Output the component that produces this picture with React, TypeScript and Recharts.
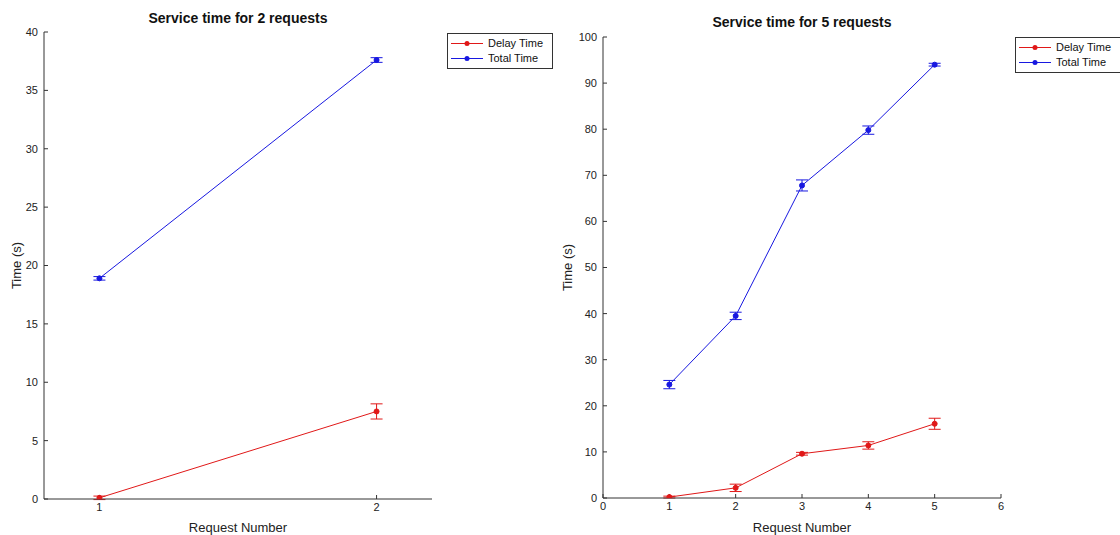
import React from "react";
import {
  LineChart,
  Line,
  XAxis,
  YAxis,
  ErrorBar,
  Label,
} from "recharts";

// chart 1: 2 requests
const requests2 = [1, 2];
const delay2 = [0.1, 7.5];
const delay2Err = [0.15, 0.65];
const total2 = [18.9, 37.6];
const total2Err = [0.15, 0.2];

// chart 2: 5 requests
const requests5 = [1, 2, 3, 4, 5];
const delay5 = [0.2, 2.2, 9.6, 11.4, 16.1];
const delay5Err = [0.2, 0.8, 0.3, 0.8, 1.2];
const total5 = [24.6, 39.5, 67.8, 79.8, 94.0];
const total5Err = [0.9, 0.8, 1.2, 0.9, 0.3];

const xTicks2 = [1, 2];
const yTicks2 = [0, 5, 10, 15, 20, 25, 30, 35, 40];
const xTicks5 = [0, 1, 2, 3, 4, 5, 6];
const yTicks5 = [0, 10, 20, 30, 40, 50, 60, 70, 80, 90, 100];

const seriesNames = ["Delay Time", "Total Time"];

const RED = "#e01818";
const BLUE = "#1818e0";
const AXIS = "#333";
const FONT = "'Liberation Sans', Arial, sans-serif";

const rows = (
  xs: number[],
  delay: number[],
  delayErr: number[],
  total: number[],
  totalErr: number[]
) =>
  xs.map((x, i) => ({
    x,
    delay: delay[i],
    delayErr: delayErr[i],
    total: total[i],
    totalErr: totalErr[i],
  }));

const data2 = rows(requests2, delay2, delay2Err, total2, total2Err);
const data5 = rows(requests5, delay5, delay5Err, total5, total5Err);

function MatlabLegend({ left, top, width }: { left: number; top: number; width: number }) {
  const colors = [RED, BLUE];
  return (
    <div
      style={{
        position: "absolute",
        left,
        top,
        width,
        boxSizing: "border-box",
        border: "1px solid #333",
        background: "#fff",
        padding: "2px 4px 2px 2px",
        fontFamily: FONT,
        fontSize: 11,
        color: "#111",
        lineHeight: "15px",
        whiteSpace: "nowrap",
      }}
    >
      {seriesNames.map((name, i) => (
        <div key={name} style={{ display: "flex", alignItems: "center" }}>
          <svg width={34} height={15} style={{ marginRight: 4 }}>
            <line x1={1} y1={7.5} x2={33} y2={7.5} stroke={colors[i]} strokeWidth={1} />
            <circle cx={17} cy={7.5} r={2.5} fill={colors[i]} />
          </svg>
          <span>{name}</span>
        </div>
      ))}
    </div>
  );
}

type PanelProps = {
  title: string;
  data: ReturnType<typeof rows>;
  xDomain: [number, number];
  xTicks: number[];
  yDomain: [number, number];
  yTicks: number[];
  left: number;
  yAxisWidth: number;
  marginRight: number;
  marginTop: number;
  xAxisHeight: number;
  yLabelOffset: number;
  titleTop: number;
  legendLeft: number;
  legendTop: number;
  legendWidth: number;
};

function Panel(p: PanelProps) {
  const tickStyle = { fontSize: 11, fill: "#222", fontFamily: FONT };
  const plotLeft = p.yAxisWidth;
  const plotRight = 560 - p.marginRight;
  return (
    <div style={{ position: "absolute", left: p.left, top: 0, width: 560, height: 535 }}>
      <div
        style={{
          position: "absolute",
          left: plotLeft,
          width: plotRight - plotLeft,
          top: p.titleTop,
          textAlign: "center",
          fontFamily: FONT,
          fontWeight: "bold",
          fontSize: 14,
          color: "#111",
        }}
      >
        {p.title}
      </div>
      <LineChart
        width={560}
        height={535}
        data={p.data}
        margin={{ top: p.marginTop, right: p.marginRight, bottom: 0, left: 0 }}
      >
        <XAxis
          type="number"
          dataKey="x"
          domain={p.xDomain}
          ticks={p.xTicks}
          allowDataOverflow
          height={p.xAxisHeight}
          stroke={AXIS}
          tick={tickStyle}
          tickSize={-4}
          tickMargin={8}
        >
          <Label
            value="Request Number"
            position="insideBottom"
            offset={3}
            style={{ fontSize: 13, fill: "#222", fontFamily: FONT }}
          />
        </XAxis>
        <YAxis
          type="number"
          domain={p.yDomain}
          ticks={p.yTicks}
          allowDataOverflow
          width={p.yAxisWidth}
          stroke={AXIS}
          tick={tickStyle}
          tickSize={-4}
          tickMargin={10}
        >
          <Label
            value="Time (s)"
            angle={-90}
            position="insideLeft"
            offset={p.yLabelOffset}
            style={{ fontSize: 13, fill: "#222", fontFamily: FONT, textAnchor: "middle" }}
          />
        </YAxis>
        <Line
          name={seriesNames[0]}
          dataKey="delay"
          stroke={RED}
          strokeWidth={1}
          dot={{ r: 2.5, fill: RED, stroke: RED, strokeWidth: 1 }}
          isAnimationActive={false}
        >
          <ErrorBar dataKey="delayErr" direction="y" width={6} stroke={RED} strokeWidth={1} />
        </Line>
        <Line
          name={seriesNames[1]}
          dataKey="total"
          stroke={BLUE}
          strokeWidth={1}
          dot={{ r: 2.5, fill: BLUE, stroke: BLUE, strokeWidth: 1 }}
          isAnimationActive={false}
        >
          <ErrorBar dataKey="totalErr" direction="y" width={6} stroke={BLUE} strokeWidth={1} />
        </Line>
      </LineChart>
      <MatlabLegend left={p.legendLeft} top={p.legendTop} width={p.legendWidth} />
    </div>
  );
}

export default function App() {
  return (
    <div
      style={{
        position: "absolute",
        left: 0,
        top: 0,
        width: 1120,
        height: 535,
        overflow: "hidden",
        background: "#fff",
      }}
    >
      <Panel
        title="Service time for 2 requests"
        data={data2}
        xDomain={[0.8, 2.2]}
        xTicks={xTicks2}
        yDomain={[0, 40]}
        yTicks={yTicks2}
        left={0}
        yAxisWidth={44}
        marginRight={128}
        marginTop={32}
        xAxisHeight={36}
        yLabelOffset={16}
        titleTop={10}
        legendLeft={447}
        legendTop={33}
        legendWidth={106}
      />
      <Panel
        title="Service time for 5 requests"
        data={data5}
        xDomain={[0, 6]}
        xTicks={xTicks5}
        yDomain={[0, 100]}
        yTicks={yTicks5}
        left={560}
        yAxisWidth={43}
        marginRight={119}
        marginTop={37}
        xAxisHeight={37}
        yLabelOffset={7}
        titleTop={14}
        legendLeft={455}
        legendTop={37}
        legendWidth={110}
      />
    </div>
  );
}
